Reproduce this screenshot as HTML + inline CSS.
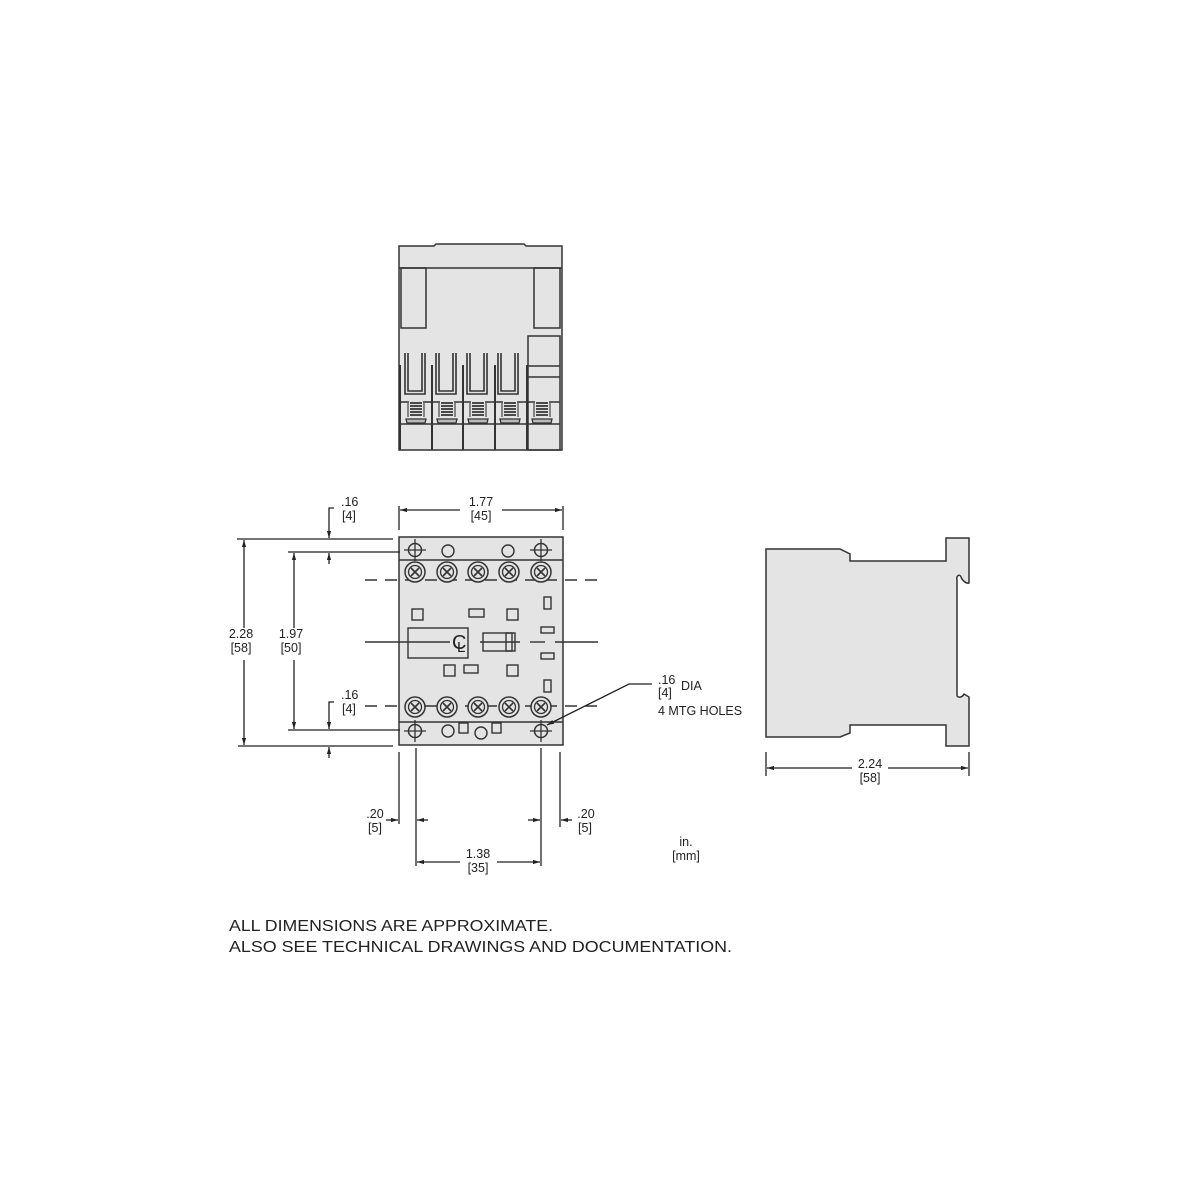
<!DOCTYPE html>
<html><head><meta charset="utf-8"><style>
html,body{margin:0;padding:0;background:#fff;}
svg{display:block}
text{font-family:"Liberation Sans",Arial,sans-serif;fill:#222;}
</style></head><body>
<svg width="1200" height="1200" viewBox="0 0 1200 1200" xmlns="http://www.w3.org/2000/svg">
<defs>
<marker id="ar" viewBox="0 0 10 10" refX="10" refY="5" markerWidth="7" markerHeight="7" orient="auto-start-reverse" markerUnits="userSpaceOnUse"><path d="M0,2 L10,5 L0,8 z" fill="#222"/></marker>
<g id="scr"><circle r="10" fill="#e4e4e4" stroke="#333" stroke-width="1.5"/><circle r="6.5" fill="none" stroke="#333" stroke-width="1.3"/><path d="M-4,-4 L4,4 M-4,4 L4,-4" stroke="#333" stroke-width="1.6"/></g>
<g id="mh"><circle r="6.5" fill="none" stroke="#333" stroke-width="1.5"/><path d="M-11,0 H11 M0,-11 V11" stroke="#333" stroke-width="1.3"/></g>
<g id="sp"><rect x="-7" y="0" width="14" height="20" fill="#e4e4e4"/><path d="M-6,3 H6 M-6,6 H6 M-6,9 H6 M-6,12 H6 M-6,15 H6" stroke="#333" stroke-width="1.8"/><path d="M-8,3 V17 M8,3 V17" stroke="#444" stroke-width="1.2"/><path d="M-10,19 H10 L9,23 H-9 z" fill="#bbb" stroke="#333" stroke-width="1.3"/></g>
</defs>
<g stroke="#333" stroke-width="1.5" fill="#e4e4e4">
<!-- TOP VIEW -->
<path d="M399,246 H434 L436,244 H524 L526,246 H562 V450 H399 z"/>
<line x1="399" y1="268" x2="562" y2="268"/>
<rect x="401" y="268" width="25" height="60" fill="none"/>
<rect x="534" y="268" width="26" height="60" fill="none"/>
<rect x="528" y="336" width="32" height="114" fill="none"/>
<line x1="528" y1="366" x2="560" y2="366"/><line x1="528" y1="377" x2="560" y2="377"/>
<g fill="none" stroke-width="1.6">
<path d="M405,353 V394 H425 V353 M408,353 V391 H422 V353"/>
<path d="M436,353 V394 H456 V353 M439,353 V391 H453 V353"/>
<path d="M467,353 V394 H487 V353 M470,353 V391 H484 V353"/>
<path d="M498,353 V394 H518 V353 M501,353 V391 H515 V353"/>
</g>
<line x1="399" y1="402" x2="560" y2="402"/>
<line x1="399" y1="424" x2="560" y2="424"/>
<path d="M400,365 V450 M432,365 V450 M463,365 V450 M495,365 V450 M527,365 V450" stroke-width="2"/>
</g>
<use href="#sp" x="416" y="400"/><use href="#sp" x="447" y="400"/><use href="#sp" x="478" y="400"/><use href="#sp" x="510" y="400"/><use href="#sp" x="542" y="400"/>

<!-- FRONT VIEW -->
<g stroke="#333" stroke-width="1.5">
<rect x="399" y="537" width="164" height="208" fill="#e4e4e4"/>
<line x1="399" y1="560" x2="563" y2="560"/>
<line x1="399" y1="722" x2="563" y2="722"/>
</g>
<g stroke="#333" stroke-width="1.5" stroke-dasharray="12,8" fill="none">
<line x1="365" y1="580" x2="598" y2="580"/>
<line x1="365" y1="706" x2="598" y2="706"/>
</g>
<g stroke="#333" stroke-width="1.4" fill="none">
<line x1="365" y1="642" x2="450" y2="642"/>
<line x1="480" y1="642" x2="520" y2="642"/>
<line x1="530" y1="642" x2="545" y2="642"/>
<line x1="555" y1="642" x2="598" y2="642"/>
<circle cx="448" cy="551" r="6"/><circle cx="508" cy="551" r="6"/>
<rect x="412" y="609" width="11" height="11"/><rect x="469" y="609" width="15" height="8"/><rect x="507" y="609" width="11" height="11"/>
<rect x="544" y="597" width="7" height="12"/><rect x="541" y="627" width="13" height="6"/><rect x="541" y="653" width="13" height="6"/><rect x="544" y="680" width="7" height="12"/>
<rect x="408" y="628" width="60" height="30"/>
<rect x="483" y="633" width="32" height="18"/><rect x="506" y="633" width="6" height="18"/>
<rect x="444" y="665" width="11" height="11"/><rect x="464" y="665" width="14" height="8"/><rect x="507" y="665" width="11" height="11"/>
<circle cx="448" cy="731" r="6"/><rect x="459" y="723" width="9" height="10"/><circle cx="481" cy="733" r="6"/><rect x="492" y="723" width="9" height="10"/>
</g>
<text x="452" y="649" font-size="20" font-family="Liberation Serif">C</text><text x="457" y="652" font-size="15">L</text>
<use href="#scr" x="415" y="572"/><use href="#scr" x="447" y="572"/><use href="#scr" x="478" y="572"/><use href="#scr" x="509" y="572"/><use href="#scr" x="541" y="572"/>
<use href="#scr" x="415" y="707"/><use href="#scr" x="447" y="707"/><use href="#scr" x="478" y="707"/><use href="#scr" x="509" y="707"/><use href="#scr" x="541" y="707"/>
<use href="#mh" x="415" y="550"/><use href="#mh" x="541" y="550"/><use href="#mh" x="415" y="731"/><use href="#mh" x="541" y="731"/>

<!-- DIMENSIONS -->
<g stroke="#222" stroke-width="1.3" fill="none">
<line x1="399" y1="506" x2="399" y2="530"/><line x1="563" y1="506" x2="563" y2="530"/>
<line x1="400" y1="510" x2="460" y2="510" marker-start="url(#ar)"/><line x1="502" y1="510" x2="562" y2="510" marker-end="url(#ar)"/>
<line x1="237" y1="539" x2="393" y2="539"/><line x1="238" y1="746" x2="393" y2="746"/>
<line x1="288" y1="552" x2="400" y2="552"/><line x1="288" y1="730" x2="400" y2="730"/>
<line x1="244" y1="540" x2="244" y2="628" marker-start="url(#ar)"/><line x1="244" y1="660" x2="244" y2="745" marker-end="url(#ar)"/>
<line x1="294" y1="553" x2="294" y2="628" marker-start="url(#ar)"/><line x1="294" y1="660" x2="294" y2="729" marker-end="url(#ar)"/>
<path d="M334,508 H329 V538" marker-end="url(#ar)"/><line x1="329" y1="564" x2="329" y2="553" marker-end="url(#ar)"/>
<path d="M334,702 H329 V729" marker-end="url(#ar)"/><line x1="329" y1="758" x2="329" y2="747" marker-end="url(#ar)"/>
<line x1="399" y1="752" x2="399" y2="824"/><line x1="416" y1="748" x2="416" y2="866"/>
<line x1="541" y1="748" x2="541" y2="866"/><line x1="560" y1="752" x2="560" y2="827"/>
<line x1="386" y1="820" x2="398" y2="820" marker-end="url(#ar)"/><line x1="428" y1="820" x2="417" y2="820" marker-end="url(#ar)"/>
<line x1="528" y1="820" x2="540" y2="820" marker-end="url(#ar)"/><line x1="572" y1="820" x2="561" y2="820" marker-end="url(#ar)"/>
<line x1="417" y1="862" x2="460" y2="862" marker-start="url(#ar)"/><line x1="497" y1="862" x2="540" y2="862" marker-end="url(#ar)"/>
<path d="M652,684 H629 L547,725" marker-end="url(#ar)"/>
<line x1="766" y1="752" x2="766" y2="776"/><line x1="969" y1="752" x2="969" y2="776"/>
<line x1="767" y1="768" x2="852" y2="768" marker-start="url(#ar)"/><line x1="888" y1="768" x2="968" y2="768" marker-end="url(#ar)"/>
</g>
<g font-size="12.5">
<text x="481" y="506" text-anchor="middle">1.77</text><text x="481" y="520" text-anchor="middle">[45]</text>
<text x="341" y="506">.16</text><text x="342" y="520">[4]</text>
<text x="341" y="699">.16</text><text x="342" y="713">[4]</text>
<text x="241" y="638" text-anchor="middle">2.28</text><text x="241" y="652" text-anchor="middle">[58]</text>
<text x="291" y="638" text-anchor="middle">1.97</text><text x="291" y="652" text-anchor="middle">[50]</text>
<text x="375" y="818" text-anchor="middle">.20</text><text x="375" y="832" text-anchor="middle">[5]</text>
<text x="586" y="818" text-anchor="middle">.20</text><text x="585" y="832" text-anchor="middle">[5]</text>
<text x="478" y="858" text-anchor="middle">1.38</text><text x="478" y="872" text-anchor="middle">[35]</text>
<text x="686" y="846" text-anchor="middle">in.</text><text x="686" y="860" text-anchor="middle">[mm]</text>
<text x="870" y="768" text-anchor="middle">2.24</text><text x="870" y="782" text-anchor="middle">[58]</text>
<text x="658" y="684">.16</text><text x="658" y="697">[4]</text><text x="681" y="690">DIA</text>
<text x="658" y="715">4 MTG HOLES</text>
</g>

<!-- SIDE VIEW -->
<path d="M766,549 H840 L850,554 V561 H946 V538 H969 V583 C966,584 962,580 961,577 C960,574 956,575 957,580 V695 C957,698 962,698 964,694 L969,697 V746 H946 V725 H850 V733 L840,737 H766 z" fill="#e4e4e4" stroke="#333" stroke-width="1.5"/>

<text x="229" y="931" font-size="16" textLength="324" lengthAdjust="spacingAndGlyphs">ALL DIMENSIONS ARE APPROXIMATE.</text>
<text x="229" y="952" font-size="16" textLength="503" lengthAdjust="spacingAndGlyphs">ALSO SEE TECHNICAL DRAWINGS AND DOCUMENTATION.</text>
</svg>
</body></html>
